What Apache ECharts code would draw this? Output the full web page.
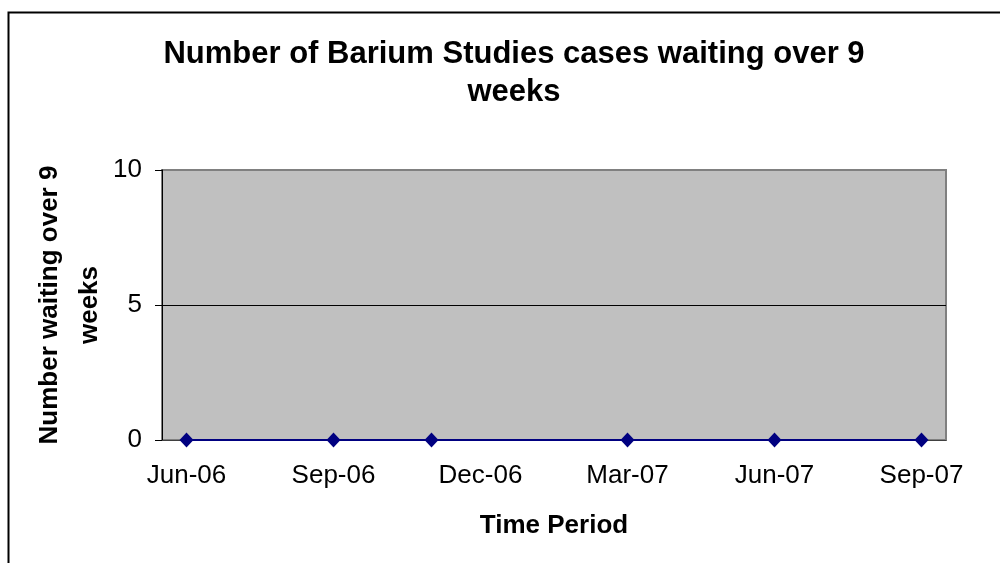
<!DOCTYPE html>
<html>
<head>
<meta charset="utf-8">
<script src="https://cdn.jsdelivr.net/npm/echarts@6/dist/echarts.min.js"></script>
<style>
  html, body { margin: 0; padding: 0; background: #fff; }
  #chart { width: 1000px; height: 563px; }
</style>
</head>
<body>
<div id="chart"></div>
<script>
// months on the date axis (one band per month)
var months = ["Jun-06", "Jul-06", "Aug-06", "Sep-06", "Oct-06", "Nov-06", "Dec-06",
  "Jan-07", "Feb-07", "Mar-07", "Apr-07", "May-07", "Jun-07", "Jul-07", "Aug-07", "Sep-07"];
// months that have a value
var dates = ["Jun-06", "Sep-06", "Nov-06", "Mar-07", "Jun-07", "Sep-07"];
var waiting = [0, 0, 0, 0, 0, 0];
var yTicks = [0, 5, 10];

(function () {
  var myChart = echarts.init(document.getElementById("chart"));
  var font = "Liberation Sans, Arial, sans-serif";
  var option = {
    backgroundColor: "#fff",
    animation: false,
    title: {
      text: "Number of Barium Studies cases waiting over 9\nweeks",
      left: 509,
      top: 30,
      textAlign: "center",
      textStyle: {
        fontFamily: font,
        fontSize: 31,
        fontWeight: "bold",
        color: "#000",
        lineHeight: 38
      }
    },
    // outer chart frame
    graphic: [{
      type: "rect",
      left: 6,
      top: 10,
      shape: { width: 1010, height: 600 },
      style: { fill: "none", stroke: "#000", lineWidth: 2 }
    }],
    grid: {
      left: 162,
      right: 54,
      top: 170,
      bottom: 123,
      show: true,
      backgroundColor: "#C0C0C0",
      borderColor: "#808080",
      borderWidth: 2
    },
    xAxis: {
      type: "category",
      data: months,
      boundaryGap: true,
      name: "Time Period",
      nameLocation: "middle",
      nameGap: 73,
      nameMoveOverlap: false,
      nameTextStyle: { fontFamily: font, fontSize: 26, fontWeight: "bold", color: "#000" },
      axisLine: { lineStyle: { color: "#404040", width: 1 } },
      axisTick: { interval: 2, length: 7, lineStyle: { color: "#000" } },
      axisLabel: {
        interval: 2,
        margin: 23,
        fontFamily: font,
        fontSize: 26,
        color: "#000"
      },
      splitLine: { show: false }
    },
    yAxis: {
      type: "value",
      min: yTicks[0],
      max: yTicks[yTicks.length - 1],
      interval: yTicks[1] - yTicks[0],
      name: "Number waiting over 9\nweeks",
      nameLocation: "middle",
      nameGap: 52,
      nameMoveOverlap: false,
      nameRotate: 90,
      nameTextStyle: {
        fontFamily: font, fontSize: 26, fontWeight: "bold", color: "#000",
        lineHeight: 40, align: "center"
      },
      axisLine: { show: true, lineStyle: { color: "#000", width: 1 } },
      axisTick: { show: true, length: 7, lineStyle: { color: "#000" } },
      axisLabel: { margin: 20, fontFamily: font, fontSize: 26, color: "#000" },
      splitLine: {
        show: true,
        lineStyle: { color: ["transparent", "#000", "#808080"], width: 1 }
      }
    },
    series: [{
      type: "line",
      data: dates.map(function (d, i) { return [d, waiting[i]]; }),
      connectNulls: true,
      symbol: "diamond",
      symbolSize: [14, 15],
      lineStyle: { color: "#000080", width: 2 },
      itemStyle: { color: "#000080" }
    }]
  };
  myChart.setOption(option);
  window.addEventListener("resize", function () {
    myChart.resize();
  });
})();
</script>
</body>
</html>
